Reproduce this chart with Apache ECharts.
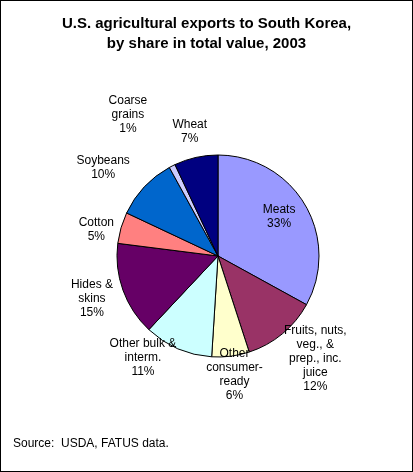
<!DOCTYPE html>
<html><head><meta charset="utf-8">
<script src="https://cdn.jsdelivr.net/npm/echarts@6/dist/echarts.min.js"></script>
<style>html,body{margin:0;padding:0;background:#fff}
#c{width:411px;height:470px;border:1px solid #000}</style></head>
<body><div id="c"></div>
<script>
const names = ['Meats', 'Fruits, nuts,\nveg., &\nprep., inc.\njuice', 'Other\nconsumer-\nready', 'Other bulk &\ninterm.', 'Hides &\nskins', 'Cotton', 'Soybeans', 'Coarse\ngrains', 'Wheat'];
const values = [33, 12, 6, 11, 15, 5, 10, 1, 7];
const colors = ['#9999FF', '#993366', '#FFFFCC', '#CCFFFF', '#660066', '#FF8080', '#0066CC', '#CCCCFF', '#000080'];
// label nudges from default place
const nudgeX = [5, -22, -30, 5, -7, 1, 13, 12, 17];
const nudgeY = [28, 22, -27, 5, 4, -28, -60, -76, -22];

const chart = echarts.init(document.getElementById('c'));
const data = names.map((n, i) => {
    const d = {name: n, value: values[i], itemStyle: {color: colors[i]}};
    if (i === 0) d.label = {position: 'inside', offset: [10, -40]};
    return d;
});
chart.setOption({
    animation: false,
    title: {
        text: 'U.S. agricultural exports to South Korea,\nby share in total value, 2003',
        left: 'center', top: 8,
        textStyle: {fontFamily: 'Arial, Liberation Sans', fontSize: 15, fontWeight: 'bold', lineHeight: 20, color: '#000'}
    },
    graphic: [{
        type: 'text', left: 12, top: 437,
        style: {text: 'Source:  USDA, FATUS data.', font: '12px Arial, Liberation Sans', fill: '#000'}
    }],
    series: [{
        type: 'pie',
        center: [217, 255],
        radius: 101,
        startAngle: 90,
        clockwise: true,
        data,
        itemStyle: {borderColor: '#000', borderWidth: 1},
        label: {
            formatter: '{b}\n{c}%',
            fontFamily: 'Arial, Liberation Sans', fontSize: 12, lineHeight: 14, color: '#000',
            position: 'outside', alignTo: 'none'
        },
        labelLine: {show: false, length: 4, length2: 0},
        labelLayout: (p) => ({
            x: p.labelRect.x + p.labelRect.width / 2 + nudgeX[p.dataIndex],
            y: p.labelRect.y + p.labelRect.height / 2 + nudgeY[p.dataIndex],
            align: 'center', verticalAlign: 'middle'
        }),
        emphasis: {disabled: true}
    }]
});
</script></body></html>
